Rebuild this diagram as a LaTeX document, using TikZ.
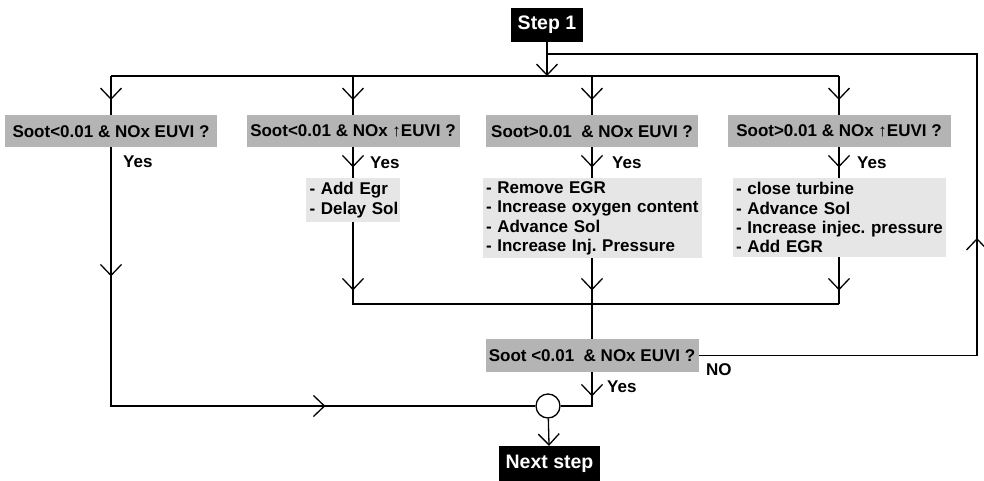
\documentclass[tikz,border=0pt]{standalone}
\usepackage{fontspec}
\setmainfont{Liberation Sans}
\usetikzlibrary{arrows.meta,decorations.markings}
\definecolor{decgray}{RGB}{180,180,180}
\definecolor{actgray}{RGB}{230,230,230}

\begin{document}
\begin{tikzpicture}[x=1pt,y=-1pt,
  font=\bfseries\fontsize{17}{19.3}\selectfont,
  barb/.tip={Straight Barb[length=11pt,width=21pt]},
  link/.style={line width=1.3pt,black},
  mid/.style={postaction={decorate,decoration={markings,
      mark=at position #1 with {\arrow{barb}}}}},
  dec/.style={fill=decgray,inner sep=0pt,minimum height=32pt,anchor=north,align=center},
  act/.style={fill=actgray,inner xsep=3.5pt,inner ysep=0pt,anchor=north,align=left},
  blk/.style={fill=black,text=white,inner sep=0pt,
      font=\bfseries\fontsize{19.5}{22}\selectfont},
  lbl/.style={inner sep=0pt,anchor=west}]

\useasboundingbox[fill=white] (0,0) rectangle (984,481);

% start and end blocks
\node[blk,minimum width=72pt,minimum height=34pt] (step) at (547,25) {Step 1};
\node[blk,minimum width=101pt,minimum height=36pt] (next) at (549.5,464) {Next step};

% decision boxes
\node[dec,minimum width=212pt] (d1) at (111,115) {Soot<0.01 \& NOx EUVI ?};
\node[dec,minimum width=213pt] (d2) at (353,115) {Soot<0.01 \& NOx {\mdseries ↑}EUVI ?};
\node[dec,minimum width=212pt] (d3) at (592,115) {Soot>0.01\ \ \& NOx EUVI ?};
\node[dec,minimum width=223pt] (d4) at (839,115) {Soot>0.01 \& NOx {\mdseries ↑}EUVI ?};
\node[dec,minimum width=213pt,minimum height=33pt] (fin) at (592,339) {Soot <0.01\ \ \& NOx EUVI ?};

% corrective actions (one unbreakable line per item)
\node[act,text width=87pt,minimum height=44pt] (a2) at (353,178)
  {\mbox{- Add Egr}\\\mbox{- Delay Sol}};
\node[act,text width=212pt,minimum height=80pt] (a3) at (592,178)
  {\mbox{- Remove EGR}\\\mbox{- Increase oxygen content}\\\mbox{- Advance Sol}\\\mbox{- Increase Inj.\ Pressure}};
\node[act,text width=206pt,minimum height=79pt] (a4) at (839,178)
  {\mbox{- close turbine}\\\mbox{- Advance Sol}\\\mbox{- Increase injec.\ pressure}\\\mbox{- Add EGR}};

% merge point
\node[draw,link,fill=white,circle,minimum size=24pt,inner sep=0pt] (jn) at (548,406) {};

% routing coordinates
\coordinate (top) at (547,76);
\coordinate (bus) at (0,304);
\coordinate (loopc) at (977,54);

% distribution bus
\draw[link,-barb] (step) -- (top);
\draw[link] (d1.north |- top) -- (d4.north |- top);
\foreach \d in {d1,d2,d3,d4}
  \draw[link,mid=24pt] (\d.north |- top) -- (\d.north);

% yes branches to the actions
\foreach \d/\a in {d2/a2,d3/a3,d4/a4}
  \draw[link,mid=20pt] (\d.south) -- (\a.north);

% first case goes straight to the merge point
\draw[link,mid=129pt,mid=473pt] (d1.south) -- (d1.south |- jn) -- (jn);

% actions collected on the return bus
\draw[link,mid=68pt] (a2.south) -- (a2.south |- bus) -- (a4.south |- bus);
\draw[link,mid=33pt] (a4.south) -- (a4.south |- bus);
\draw[link,mid=32pt] (a3.south) -- (fin.north);

% final check
\draw[link,mid=24pt] (fin.south) -- (fin.south |- jn) -- (jn);
\draw[link,mid=396pt] (fin.east) -- (loopc |- fin.east) -- (loopc) -- (step.south |- loopc);
\draw[link,-barb] (jn) -- (next);

% labels
\node[lbl] (y1) at (123,162) {Yes};
\node[lbl] (y2) at (370,163) {Yes};
\node[lbl] (y3) at (612,163) {Yes};
\node[lbl] (y4) at (857,163) {Yes};
\node[lbl] (y5) at (607,387) {Yes};
\node[lbl] (no) at (706,370) {NO};
\end{tikzpicture}
\end{document}
